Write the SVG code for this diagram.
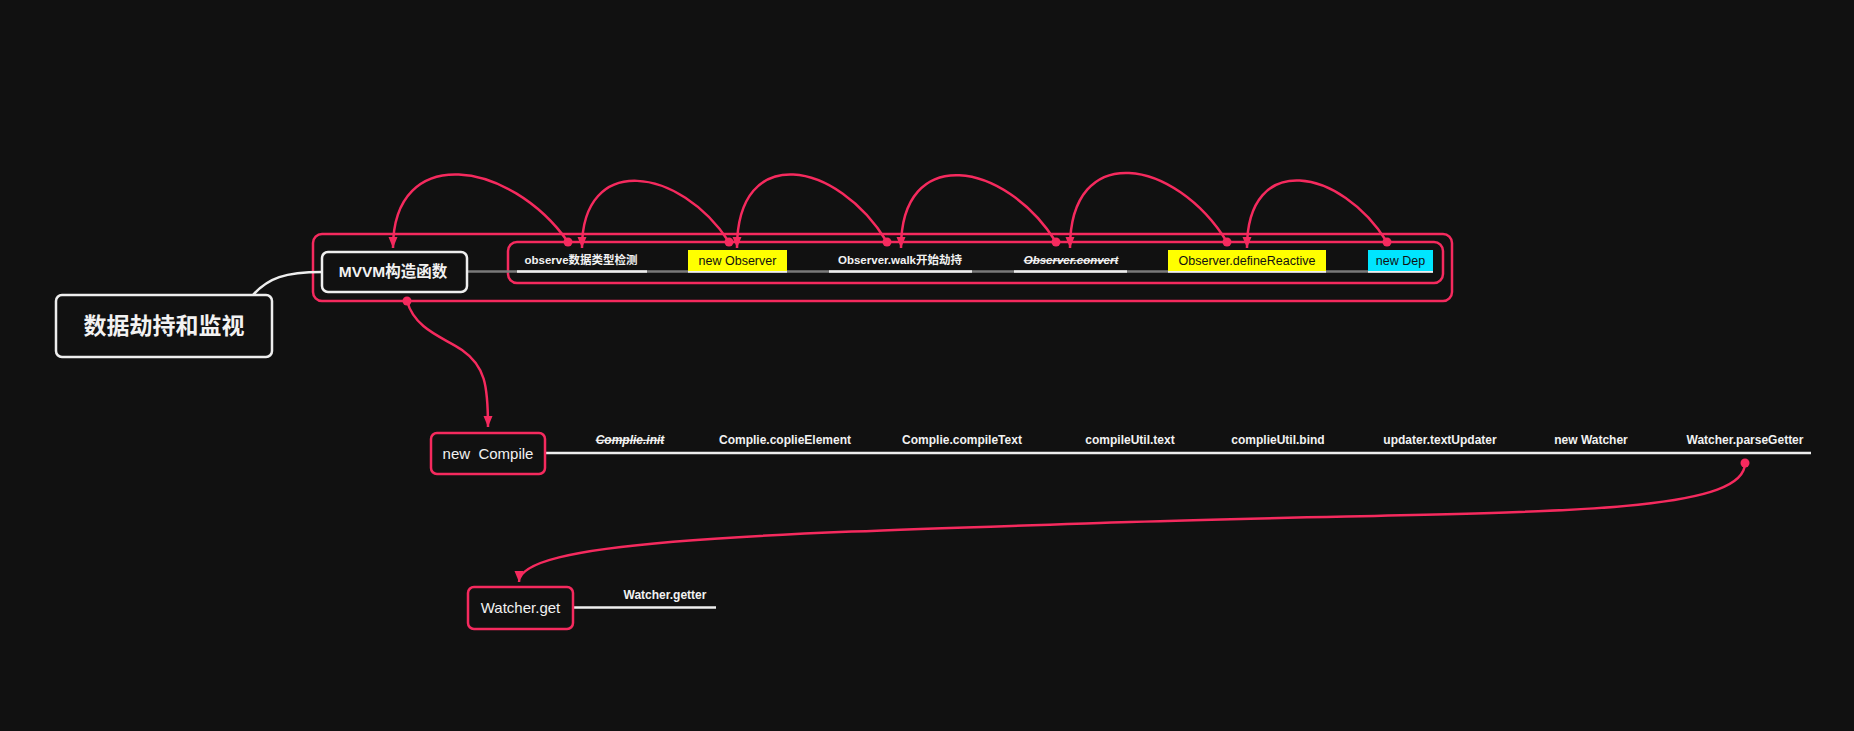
<svg xmlns="http://www.w3.org/2000/svg" width="1854" height="731" viewBox="0 0 1854 731">
<defs>
<style>
.bg{fill:#111111}
.wbox{fill:#111111;stroke:#eeeeee;stroke-width:2.5}
.pbox{fill:#111111;stroke:#F52A5E;stroke-width:2.5}
.bound{fill:none;stroke:#F52A5E;stroke-width:2.5}
.rel{fill:none;stroke:#F52A5E;stroke-width:2.5}
.dot{fill:#F52A5E}
.wline{fill:none;stroke:#eeeeee;stroke-width:2.5}
.gline{fill:none;stroke:#7a7a7a;stroke-width:2.5}
.sub{fill:#f2f2f2;font-family:"Liberation Sans","Noto Sans CJK SC",sans-serif;font-size:11.5px;font-weight:bold;text-anchor:middle}
.subk{fill:#111111;font-family:"Liberation Sans","Noto Sans CJK SC",sans-serif;font-size:12.5px;text-anchor:middle}
.csub{fill:#f2f2f2;font-family:"Liberation Sans",sans-serif;font-size:12px;font-weight:bold;text-anchor:middle}
.strike{font-style:italic;text-decoration:line-through}
.t15{fill:#f2f2f2;font-family:"Liberation Sans",sans-serif;font-size:15px;text-anchor:middle}
</style>
<marker id="arr" markerUnits="userSpaceOnUse" markerWidth="12" markerHeight="12" viewBox="0 0 12 12" refX="11" refY="6" orient="auto"><path d="M0,1.5 L11,6 L0,10.5 z" fill="#F52A5E"/></marker>
</defs>
<rect class="bg" x="0" y="0" width="1854" height="731"/>

<g id="boundaries">
<rect class="bound" x="313" y="234" width="1139" height="67" rx="9"/>
<rect class="bound" x="508" y="242" width="935" height="41" rx="9"/>
</g>

<g id="connectors">
<path class="wline" d="M253,295 C268,278 285,272 322,272"/>
<line class="gline" x1="467" y1="271.5" x2="1433" y2="271.5"/>
<line class="wline" x1="517" y1="271.5" x2="647" y2="271.5"/>
<line class="wline" x1="688" y1="271.5" x2="787" y2="271.5"/>
<line class="wline" x1="829" y1="271.5" x2="972" y2="271.5"/>
<line class="wline" x1="1014" y1="271.5" x2="1127" y2="271.5"/>
<line class="wline" x1="1168" y1="271.5" x2="1326" y2="271.5"/>
<line class="wline" x1="1368" y1="271.5" x2="1433" y2="271.5"/>
<line class="wline" x1="545" y1="453" x2="1811" y2="453"/>
<line class="wline" x1="573" y1="607.5" x2="716" y2="607.5"/>

<path class="rel" d="M568,242 C510,160 393,142 393,248" marker-end="url(#arr)"/>
<path class="rel" d="M729,242 C680,167 582,152 582,248" marker-end="url(#arr)"/>
<path class="rel" d="M887,242 C837,160 737,142 737,248" marker-end="url(#arr)"/>
<path class="rel" d="M1056,242 C1005,161 901,143 901,248" marker-end="url(#arr)"/>
<path class="rel" d="M1227,242 C1175,158 1070,140 1070,248" marker-end="url(#arr)"/>
<path class="rel" d="M1387,242 C1341,168 1247,150 1247,248" marker-end="url(#arr)"/>
<path class="rel" d="M407,301 C415,330 445,338 462,350 C485,366 488,385 488,427" marker-end="url(#arr)"/>
<path class="rel" d="M1745,463 C1745,520 1500,510 1130,522 C760,534 519,540 519,582" marker-end="url(#arr)"/>
<circle class="dot" cx="568" cy="242" r="4.5"/>
<circle class="dot" cx="729" cy="242" r="4.5"/>
<circle class="dot" cx="887" cy="242" r="4.5"/>
<circle class="dot" cx="1056" cy="242" r="4.5"/>
<circle class="dot" cx="1227" cy="242" r="4.5"/>
<circle class="dot" cx="1387" cy="242" r="4.5"/>
<circle class="dot" cx="407" cy="301" r="4.5"/>
<circle class="dot" cx="1745" cy="463" r="4.5"/>
</g>

<g id="root">
<rect class="wbox" x="56" y="295" width="216" height="62" rx="6"/>
<text x="164" y="334" style="fill:#f2f2f2;font-family:'Liberation Sans','Noto Sans CJK SC',sans-serif;font-size:23px;font-weight:bold;text-anchor:middle">数据劫持和监视</text>
</g>

<g id="mvvm">
<rect class="wbox" x="322" y="252" width="145" height="40" rx="6"/>
<text x="393" y="277" style="fill:#f2f2f2;font-family:'Liberation Sans','Noto Sans CJK SC',sans-serif;font-size:15.5px;font-weight:bold;text-anchor:middle">MVVM构造函数</text>
</g>

<g id="observe"><text class="sub" x="581" y="264">observe数据类型检测</text></g>
<g id="newObserver"><rect x="688" y="250" width="99" height="21" fill="#FFFF00"/><text class="subk" x="737.5" y="265">new Observer</text></g>
<g id="walk"><text class="sub" x="900" y="264">Observer.walk开始劫持</text></g>
<g id="convert"><text class="sub strike" x="1071" y="264">Observer.convert</text></g>
<g id="defineReactive"><rect x="1168" y="250" width="158" height="21" fill="#FFFF00"/><text class="subk" x="1247" y="265">Observer.defineReactive</text></g>
<g id="newDep"><rect x="1368" y="250" width="65" height="21" fill="#00E5FF"/><text class="subk" x="1400.5" y="265">new Dep</text></g>

<g id="newCompile">
<rect class="pbox" x="431" y="433" width="114" height="41" rx="6"/>
<text class="t15" x="488" y="459" xml:space="preserve">new  Compile</text>
</g>
<g id="complieInit"><text class="csub strike" x="630" y="444">Complie.init</text></g>
<g id="coplieElement"><text class="csub" x="785" y="444">Complie.coplieElement</text></g>
<g id="compileText"><text class="csub" x="962" y="444">Complie.compileText</text></g>
<g id="utilText"><text class="csub" x="1130" y="444">compileUtil.text</text></g>
<g id="utilBind"><text class="csub" x="1278" y="444">complieUtil.bind</text></g>
<g id="textUpdater"><text class="csub" x="1440" y="444">updater.textUpdater</text></g>
<g id="newWatcher"><text class="csub" x="1591" y="444">new Watcher</text></g>
<g id="parseGetter"><text class="csub" x="1745" y="444">Watcher.parseGetter</text></g>

<g id="watcherGet">
<rect class="pbox" x="468" y="587" width="105" height="42" rx="6"/>
<text class="t15" x="520.5" y="613">Watcher.get</text>
</g>
<g id="watcherGetter"><text class="csub" x="665" y="599">Watcher.getter</text></g>
</svg>
